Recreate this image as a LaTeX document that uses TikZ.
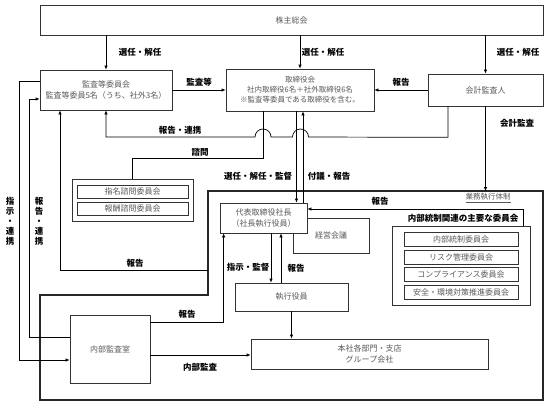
\documentclass[tikz,border=0pt]{standalone}
\usepackage{fontspec}
\newfontfamily\jp{Noto Sans CJK JP}
\usetikzlibrary{arrows.meta}

\begin{document}
\begin{tikzpicture}[
  x=1pt, y=-1pt,
  >={Latex[length=4pt,width=3.5pt]},
  line width=0.7pt,
  box/.style={rectangle, draw=black!80, fill=white, inner sep=0pt, align=center,
    font=\jp\fontsize{8}{10.5}\selectfont, text=black!65},
  lbl/.style={font=\jp\bfseries\fontsize{8.5}{10}\selectfont, inner sep=1pt},
  vlbl/.style={lbl, align=center, font=\jp\bfseries\fontsize{8.5}{10}\selectfont}
]
\useasboundingbox (0,0) rectangle (549,407);

% top level
\node[box, minimum width=503pt, minimum height=30pt] (soukai) at (291.5,20) {株主総会};
\node[box, minimum width=132pt, minimum height=40pt] (kansa) at (106,90) {監査等委員会\\監査等委員5名（うち、社外3名）};
\node[box, minimum width=148pt, minimum height=42pt, font=\jp\fontsize{7.5}{10}\selectfont] (torishimari) at (300,90)
  {取締役会\\社内取締役6名＋社外取締役6名\\※監査等委員である取締役を含む。};
\node[box, minimum width=115pt, minimum height=32pt] (kaikei) at (485.5,90) {会計監査人};

% advisory committees
\node[box, minimum width=121pt, minimum height=42pt] (shimon) at (132.5,200) {};
\node[box, minimum width=111pt, minimum height=13pt] (shimei) at (132.5,191.5) {指名諮問委員会};
\node[box, minimum width=111pt, minimum height=13pt] (houshu) at (132.5,208.5) {報酬諮問委員会};

% execution frame
\coordinate (gyomu_a) at (208,191);
\coordinate (gyomu_b) at (543,191);
\coordinate (gyomu_c) at (543,400);
\coordinate (gyomu_d) at (40,400);
\coordinate (gyomu_e) at (40,295);
\coordinate (gyomu_f) at (208,295);
\coordinate (gyomu_r) at (208,270);
\draw[line width=1.8pt, black!85] (gyomu_a) -- (gyomu_b) -- (gyomu_c) -- (gyomu_d) -- (gyomu_e) -- (gyomu_f) -- cycle;
\node[font=\jp\fontsize{7.5}{9}\selectfont, text=black!65, inner sep=1pt] (gyomu) at (488,198) {\underline{業務執行体制}};

\node[box, minimum width=76pt, minimum height=35pt] (keiei) at (331,235.5) {経営会議};
\node[box, minimum width=87pt, minimum height=30pt] (shacho) at (263.5,218) {代表取締役社長\\（社長執行役員）};
\node[box, minimum width=113pt, minimum height=28pt] (shikko) at (291.5,297) {執行役員};
\node[box, minimum width=237pt, minimum height=30pt] (honsha) at (369.5,354) {本社各部門・支店\\グループ会社};
\node[box, minimum width=80pt, minimum height=68pt] (naibu) at (110,349) {内部監査室};

% internal control committees
\node[box, minimum width=138pt, minimum height=79pt] (iinkai) at (461,265.5) {};
\node[box, minimum width=114pt, minimum height=14pt] (iinkai1) at (461,239) {内部統制委員会};
\node[box, minimum width=114pt, minimum height=14pt] (iinkai2) at (461,257) {リスク管理委員会};
\node[box, minimum width=114pt, minimum height=14pt] (iinkai3) at (461,274) {コンプライアンス委員会};
\node[box, minimum width=114pt, minimum height=14pt] (iinkai4) at (461,292) {安全・環境対策推進委員会};
\node[lbl] (iinkai_t) at (463,218) {内部統制関連の主要な委員会};

% election
\draw[->] (soukai.south -| kansa.north) -- (kansa.north);
\draw[->] (soukai.south -| torishimari.north) -- (torishimari.north);
\draw[->] (soukai.south -| kaikei.north) -- (kaikei.north);
\node[lbl] at (140,52) {選任・解任};
\node[lbl] at (323,52) {選任・解任};
\node[lbl] at (518,52) {選任・解任};

\draw[->] (kansa.east) -- node[lbl, above=2pt] {監査等} (torishimari.west);
\draw[->] (kaikei.west) -- node[lbl, above=2pt] {報告} (torishimari.east);

% report line with hops
\draw[->] ([xshift=-37.5pt]kaikei.south) -- ++(0,31) -- (308.5,137)
  arc[start angle=0, end angle=180, radius=8pt] -- (271,137)
  arc[start angle=0, end angle=180, radius=8pt] -- (kansa.south |- 0,137) -- (kansa.south);
\node[lbl] at (180,130) {報告・連携};

\draw ([xshift=-37pt]torishimari.south) -- ++(0,47) -| (shimon.north);
\node[lbl] at (200,152) {諮問};

\draw[->] ([xshift=-3.5pt]torishimari.south) -- ([xshift=-3.5pt]torishimari.south |- shacho.north);
\draw[->] ([xshift=3pt]torishimari.south |- shacho.north) -- ([xshift=3pt]torishimari.south);
\node[lbl] at (258,176) {選任・解任・監督};
\node[lbl] at (329,176) {付議・報告};

\draw[->] (kaikei.south) -- (kaikei.south |- gyomu_a);
\node[lbl] at (517,123) {会計監査};

\draw[->] ([xshift=-7pt]iinkai.north east) |- ([yshift=9pt]shacho.east);
\node[lbl] at (380,201) {報告};

\draw[->] ([xshift=7.5pt]shacho.south) -- ([xshift=7.5pt]shacho.south |- shikko.north);
\draw[->] ([xshift=17.5pt]shacho.south |- shikko.north) -- ([xshift=17.5pt]shacho.south);
\node[lbl] at (248,267) {指示・監督};
\node[lbl] at (296,268) {報告};

\draw[->] (shikko.south) -- (shikko.south |- honsha.north);

\draw[->] ([yshift=-6pt]naibu.east) -- ([yshift=-6pt]naibu.east -| honsha.west);
\node[lbl] at (200,367) {内部監査};
\draw[->] ([yshift=27pt]naibu.east) -| ([xshift=4pt]shacho.south west);
\node[lbl] at (187,314) {報告};

% audit committee links
\draw[->] ([yshift=9pt]kansa.west) -- ++(-20,0) |- ([yshift=-11pt]naibu.west);
\node[vlbl] at (10,221) {指\\示\\・\\連\\携};
\draw[->] ([yshift=12pt]naibu.west) -- ++(-40,0) |- ([yshift=-9pt]kansa.west);
\node[vlbl] at (39,221) {報\\告\\・\\連\\携};
\draw[->] (gyomu_r) -| ([xshift=-46pt]kansa.south);
\node[lbl] at (135,263) {報告};
\end{tikzpicture}
\end{document}
